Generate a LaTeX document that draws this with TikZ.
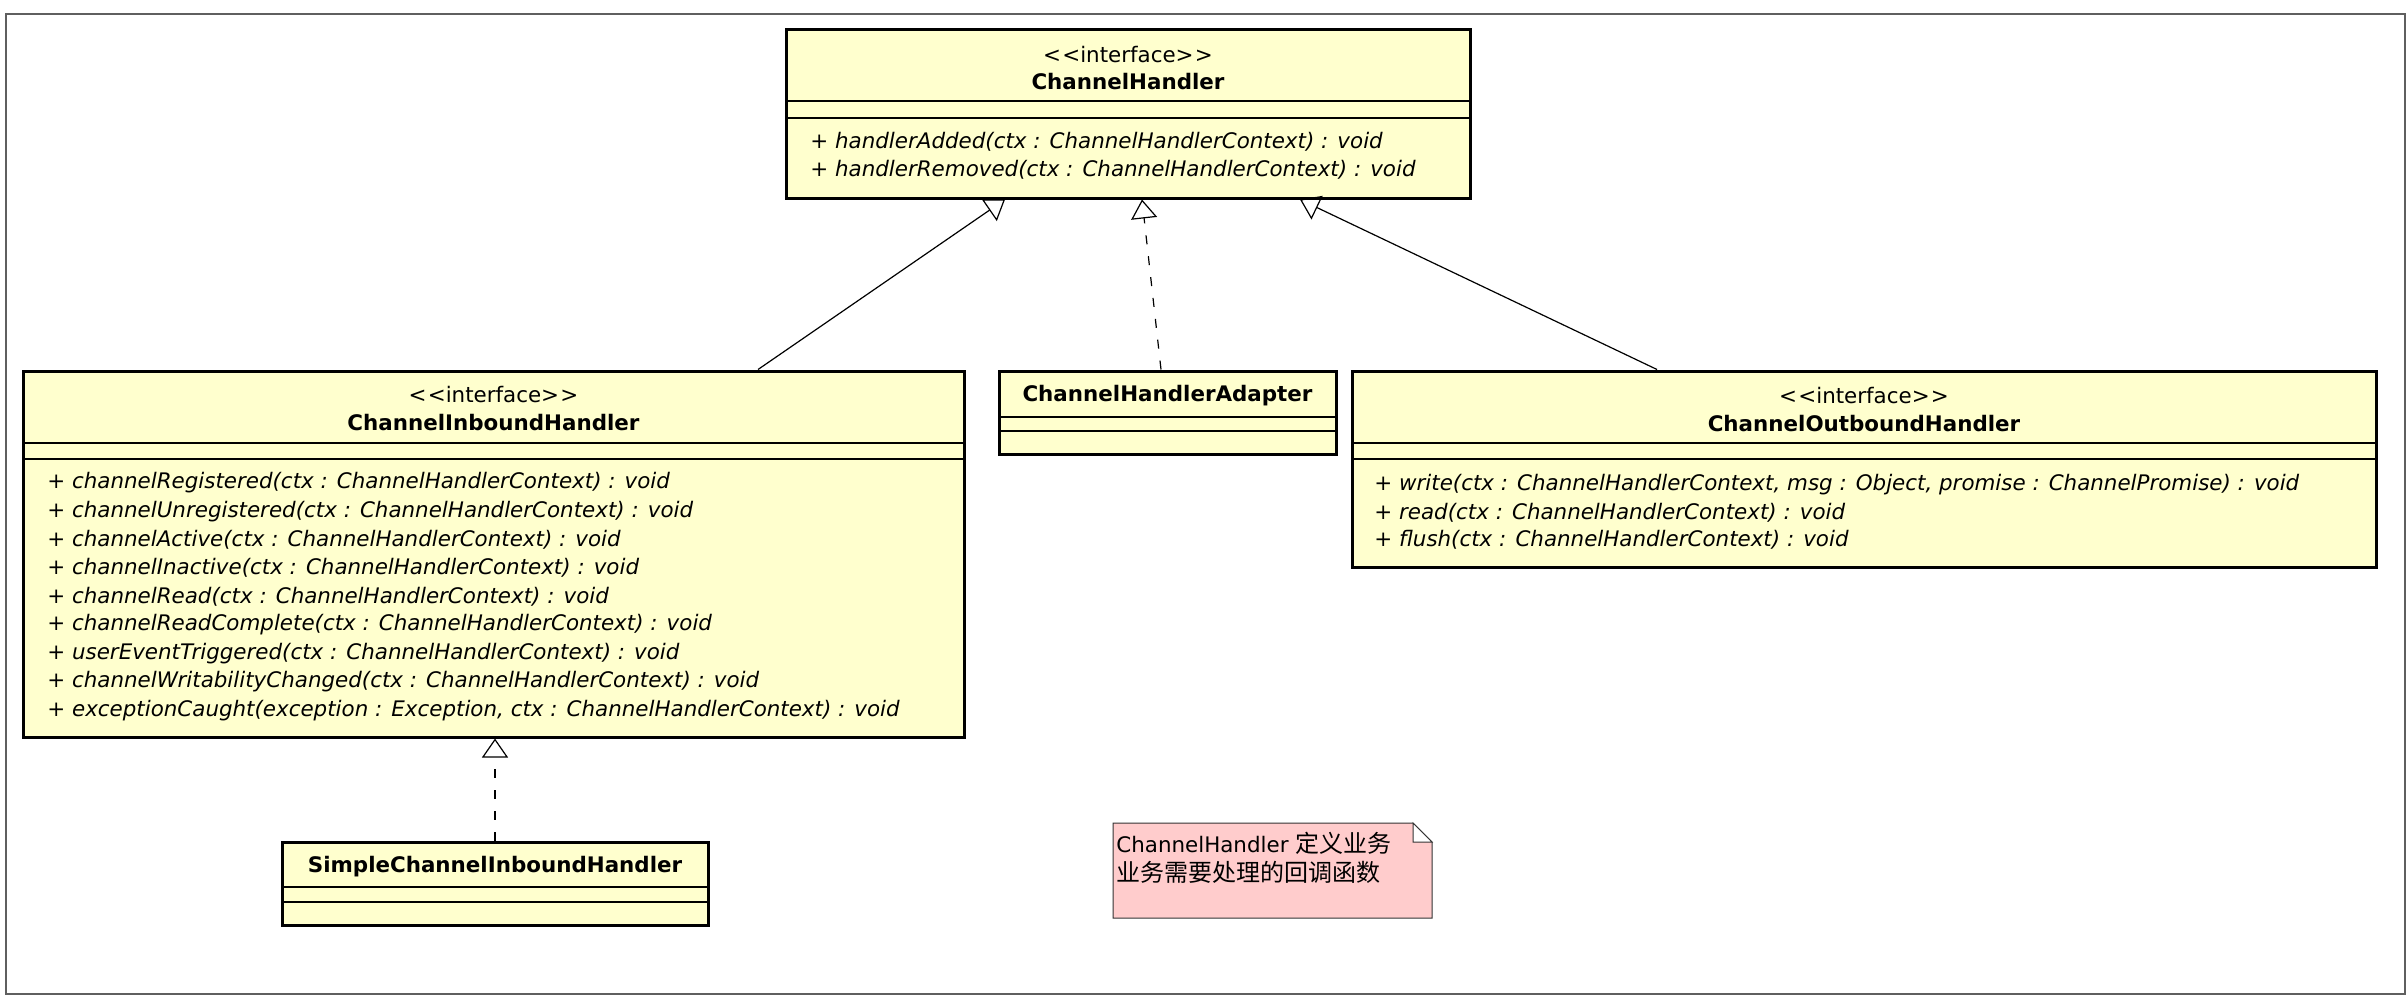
\documentclass[tikz,border=0pt]{standalone}
\usepackage{fontspec}
\setmainfont{DejaVu Sans}
\newfontfamily\cjk{Noto Sans CJK SC}
\usetikzlibrary{arrows.meta}

\definecolor{classfill}{RGB}{255,255,206}
\definecolor{notefill}{RGB}{255,204,204}
\definecolor{framegray}{RGB}{95,95,95}

\tikzset{
  classbox/.style={draw, line width=1.5pt, fill=classfill, inner sep=0pt},
  divider/.style={line width=0.7pt},
  stereo/.style={font=\fontsize{10.7}{13}\selectfont, inner sep=0pt},
  cname/.style={font=\fontsize{10.7}{13}\selectfont\bfseries, inner sep=0pt},
  member/.style={font=\fontsize{10.7}{13}\selectfont\itshape, anchor=west, inner sep=0pt},
  notetext/.style={font=\fontsize{10.7}{13}\selectfont, anchor=west, inner sep=0pt},
  realize/.style={-{Triangle[open, length=9.5pt, width=13pt]}, line width=0.6pt},
  implement/.style={realize, dash pattern=on 4.5pt off 6pt},
}

\newcommand{\interfacetag}{<\kern0.6pt<interface>\kern0.6pt>}

\begin{document}
\begin{tikzpicture}[x=0.5pt, y=-0.5pt]
\useasboundingbox (0,0) rectangle (2408,996);

% Outer frame
\draw[framegray, line width=1pt] (6,14) rectangle (2405,994);

% ChannelHandler
\node[classbox, minimum width=342pt, minimum height=84.5pt] (chandler) at (1128,113.5) {};
\draw[divider] (786,101) -- (1470,101);
\draw[divider] (786,118) -- (1470,118);
\node[stereo] (chStereo) at (1128,55) {\interfacetag};
\node[cname] (chName) at (1128,82) {ChannelHandler};
\node[member] (chM1) at (810,142) {+ handlerAdded(ctx : ChannelHandlerContext) : void};
\node[member] (chM2) at (810,170) {+ handlerRemoved(ctx : ChannelHandlerContext) : void};

% ChannelInboundHandler
\node[classbox, minimum width=470.5pt, minimum height=183pt] (inbound) at (493.5,554) {};
\draw[divider] (23,443) -- (964,443);
\draw[divider] (23,459) -- (964,459);
\node[stereo] (inStereo) at (493.5,395) {\interfacetag};
\node[cname] (inName) at (493.5,423) {ChannelInboundHandler};
\node[member] (inM1) at (47,483) {+ channelRegistered(ctx : ChannelHandlerContext) : void};
\node[member] (inM2) at (47,511.4) {+ channelUnregistered(ctx : ChannelHandlerContext) : void};
\node[member] (inM3) at (47,539.8) {+ channelActive(ctx : ChannelHandlerContext) : void};
\node[member] (inM4) at (47,568.2) {+ channelInactive(ctx : ChannelHandlerContext) : void};
\node[member] (inM5) at (47,596.6) {+ channelRead(ctx : ChannelHandlerContext) : void};
\node[member] (inM6) at (47,625) {+ channelReadComplete(ctx : ChannelHandlerContext) : void};
\node[member] (inM7) at (47,653.4) {+ userEventTriggered(ctx : ChannelHandlerContext) : void};
\node[member] (inM8) at (47,681.8) {+ channelWritabilityChanged(ctx : ChannelHandlerContext) : void};
\node[member] (inM9) at (47,710.2) {+ exceptionCaught(exception : Exception, ctx : ChannelHandlerContext) : void};

% ChannelHandlerAdapter
\node[classbox, minimum width=168.5pt, minimum height=41.5pt] (adapter) at (1167.5,412.5) {};
\draw[divider] (999,417) -- (1336,417);
\draw[divider] (999,431) -- (1336,431);
\node[cname] (adName) at (1167.5,396) {ChannelHandlerAdapter};

% ChannelOutboundHandler
\node[classbox, minimum width=512pt, minimum height=98pt] (outbound) at (1864,469) {};
\draw[divider] (1352,443) -- (2376,443);
\draw[divider] (1352,459) -- (2376,459);
\node[stereo] (outStereo) at (1864,396) {\interfacetag};
\node[cname] (outName) at (1864,424) {ChannelOutboundHandler};
\node[member] (outM1) at (1374,485) {+ write(ctx : ChannelHandlerContext, msg : Object, promise : ChannelPromise) : void};
\node[member] (outM2) at (1374,513) {+ read(ctx : ChannelHandlerContext) : void};
\node[member] (outM3) at (1374,540) {+ flush(ctx : ChannelHandlerContext) : void};

% SimpleChannelInboundHandler
\node[classbox, minimum width=213pt, minimum height=41.5pt] (simple) at (495,883.5) {};
\draw[divider] (282,887) -- (708,887);
\draw[divider] (282,902) -- (708,902);
\node[cname] (siName) at (495,867) {SimpleChannelInboundHandler};

% Note
\draw[fill=notefill, draw=black!80, line width=0.5pt]
  (1113,823) -- (1413,823) -- (1432,842) -- (1432,918) -- (1113,918) -- cycle;
\draw[fill=white, draw=black!80, line width=0.5pt] (1413,823) -- (1413,842) -- (1432,842) -- cycle;
\node[notetext] (note1) at (1116,843) {ChannelHandler {\cjk\fontsize{12}{14}\selectfont 定义业务}};
\node[notetext] (note2) at (1116,872) {\cjk\fontsize{12}{14}\selectfont 业务需要处理的回调函数};

% Generalization / realization
\draw[realize] ([xshift=132.25pt]inbound.north) -- ([xshift=-61.5pt]chandler.south);
\draw[implement] ([xshift=-3.25pt]adapter.north) -- ([xshift=7pt]chandler.south);
\draw[realize] ([xshift=-103.5pt]outbound.north) -- ([xshift=86pt]chandler.south);
\draw[implement] (simple.north) -- ([xshift=0.75pt]inbound.south);
\end{tikzpicture}
\end{document}
